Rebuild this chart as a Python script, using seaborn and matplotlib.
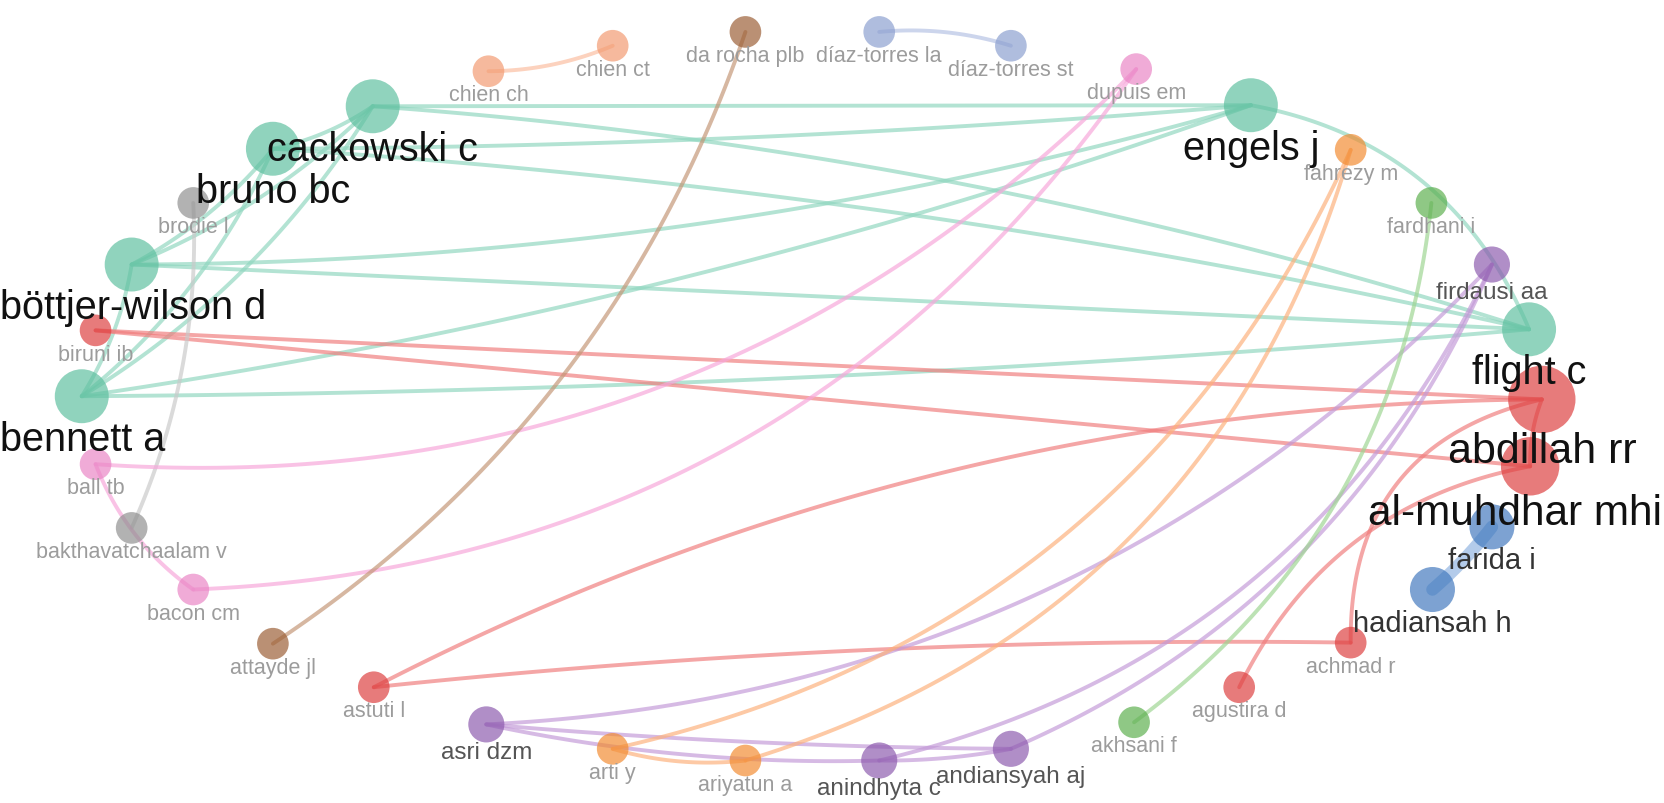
import numpy as np
import pandas as pd
import matplotlib
matplotlib.use("Agg")
import matplotlib.pyplot as plt
import seaborn as sns

# ---------------- data ----------------
names = ['cackowski c', 'bruno bc', 'böttjer-wilson d', 'bennett a', 'engels j', 'flight c',
         'abdillah rr', 'al-muhdhar mhi', 'farida i', 'hadiansah h', 'achmad r', 'agustira d',
         'astuti l', 'biruni ib', 'fardhani i', 'akhsani f', 'firdausi aa', 'asri dzm',
         'anindhyta c', 'andiansyah aj', 'fahrezy m', 'arti y', 'ariyatun a', 'brodie l',
         'bakthavatchaalam v', 'ball tb', 'bacon cm', 'dupuis em', 'da rocha plb', 'attayde jl',
         'chien ch', 'chien ct', 'díaz-torres la', 'díaz-torres st']
node_x = [351, 257, 124, 77, 1178, 1440,
          1452, 1441, 1405, 1349, 1272, 1167,
          352, 90, 1348, 1068, 1405, 458,
          828, 952, 1272, 577, 702, 182,
          124, 90, 182, 1070, 702, 257,
          460, 577, 828, 952]
node_y = [101, 141, 250, 374, 100, 311,
          377, 440, 497, 556, 606, 648,
          648, 312, 192, 681, 250, 683,
          717, 706, 142, 706, 717, 192,
          498, 438, 556, 66, 31, 607,
          68, 44, 31, 44]
cluster = ['teal'] * 6 + ['red', 'red', 'blue', 'blue', 'red', 'red', 'red', 'red',
           'green', 'green', 'purple', 'purple', 'purple', 'purple',
           'orange', 'orange', 'orange', 'gray', 'gray', 'pink', 'pink', 'pink',
           'brown', 'brown', 'salmon', 'salmon', 'lavender', 'lavender']
weight = [6, 6, 6, 6, 6, 6,
          9, 7, 4, 4, 1, 1,
          1, 1, 1, 1, 2, 2,
          2, 2, 1, 1, 1, 1,
          1, 1, 1, 1, 1, 1,
          1, 1, 1, 1]

edge_source = ['cackowski c', 'cackowski c', 'bruno bc', 'bruno bc', 'böttjer-wilson d',
               'böttjer-wilson d', 'bennett a', 'bennett a', 'bruno bc', 'böttjer-wilson d',
               'bennett a', 'böttjer-wilson d', 'bennett a', 'bennett a', 'engels j',
               'biruni ib', 'biruni ib', 'abdillah rr', 'astuti l', 'astuti l', 'achmad r',
               'agustira d', 'hadiansah h',
               'asri dzm', 'anindhyta c', 'andiansyah aj', 'asri dzm', 'asri dzm', 'anindhyta c',
               'arti y', 'ariyatun a', 'arti y', 'akhsani f', 'brodie l',
               'ball tb', 'bacon cm', 'ball tb', 'attayde jl', 'chien ch', 'díaz-torres la']
edge_target = ['engels j', 'flight c', 'engels j', 'flight c', 'engels j',
               'flight c', 'engels j', 'flight c', 'cackowski c', 'cackowski c',
               'cackowski c', 'bruno bc', 'bruno bc', 'böttjer-wilson d', 'flight c',
               'abdillah rr', 'al-muhdhar mhi', 'al-muhdhar mhi', 'abdillah rr', 'achmad r',
               'abdillah rr', 'al-muhdhar mhi', 'farida i',
               'firdausi aa', 'firdausi aa', 'firdausi aa', 'anindhyta c', 'andiansyah aj',
               'andiansyah aj', 'fahrezy m', 'fahrezy m', 'ariyatun a', 'fardhani i',
               'bakthavatchaalam v', 'dupuis em', 'dupuis em', 'bacon cm', 'da rocha plb',
               'chien ct', 'díaz-torres st']

# ---------------- styles ----------------
edge_bend = [0.0, -0.06, 0.02, -0.04, 0.07,
             0.0, 0.05, 0.02, 0.1, 0.1,
             0.12, 0.1, 0.12, 0.1, -0.27,
             0.0, 0.0, 0.1, -0.12, -0.03,
             -0.4, -0.25, 0.05,
             0.2, 0.24, 0.2, 0.06, 0.02,
             0.05, 0.25, 0.27, 0.1, 0.22, -0.12,
             0.23, 0.25, 0.15, 0.17, 0.1, -0.1]

palette = {'teal': '#5cbf9e', 'red': '#dd3c3c', 'blue': '#3f77bd', 'purple': '#8b58ad',
           'orange': '#f28a2e', 'green': '#5aae4c', 'gray': '#8e8e8e', 'pink': '#e983c4',
           'brown': '#9a5c32', 'salmon': '#f2996f', 'lavender': '#8a9ecf'}
edge_colors = {'teal': '#8fd6bf', 'red': '#f07c7c', 'blue': '#8fb3e0', 'purple': '#c39ad8',
               'orange': '#fdb07a', 'green': '#9dd591', 'gray': '#c9c9c9', 'pink': '#f7a6da',
               'brown': '#c39575', 'salmon': '#fbbd9f', 'lavender': '#b5c1e4'}
label_pt = {1: 15.5, 2: 17.5, 4: 21, 6: 28.5, 7: 30.5, 9: 31}
label_col = {1: '#9c9c9c', 2: '#555555', 4: '#333333', 6: '#111111', 7: '#111111', 9: '#111111'}

W, H = 1568, 757          # drawing space
SCALE = 804 / H           # drawing-space px -> output px


def radius(w):
    return 12.8 + 2.1 * w


def pt_to_space(pt):
    return pt / 0.72 / SCALE


df = pd.DataFrame({'name': names, 'x': node_x, 'y': node_y,
                   'cluster': cluster, 'weight': weight})
pos = {n: (x, y) for n, x, y in zip(names, node_x, node_y)}
cl_of = dict(zip(names, cluster))

sns.set_theme(style='white')
plt.rcParams['font.family'] = ['Liberation Sans', 'DejaVu Sans']

fig = plt.figure(figsize=(16.65, 8.04), dpi=100)
ax = fig.add_axes([0, 0, 1, 1])

# edges: quadratic Bezier curves
t = np.linspace(0, 1, 80)[:, None]
for s, e, k in zip(edge_source, edge_target, edge_bend):
    p = np.array(pos[s], float)
    q = np.array(pos[e], float)
    d = q - p
    c = (p + q) / 2 + k * np.array([-d[1], d[0]])
    pts = (1 - t) ** 2 * p + 2 * (1 - t) * t * c + t ** 2 * q
    lw = 9 if cl_of[s] == 'blue' else 2.8
    ax.plot(pts[:, 0], pts[:, 1], color=edge_colors[cl_of[s]], lw=lw,
            alpha=0.68, solid_capstyle='round', zorder=1)

# nodes
sizes = {w: (2 * radius(w) * SCALE * 0.72) ** 2 for w in sorted(set(weight))}
sns.scatterplot(data=df, x='x', y='y', hue='cluster', palette=palette,
                size='weight', sizes=sizes, legend=False, alpha=0.68,
                edgecolor='none', linewidth=0, ax=ax, zorder=2)
ax.set_xlim(0, W)
ax.set_ylim(H, 0)
ax.axis('off')

# labels (kept inside the canvas, as the reference does)
fig.canvas.draw()
renderer = fig.canvas.get_renderer()
fig_w = fig.bbox.width
for n, x, y, w in zip(names, node_x, node_y, weight):
    fpx = pt_to_space(label_pt[w])
    yb = y + radius(w) + 0.72 * fpx - 2
    txt = ax.text(x, yb, n, ha='center', va='baseline', fontsize=label_pt[w],
                  color=label_col[w], zorder=3)
    bb = txt.get_window_extent(renderer)
    shift = 0.0
    if bb.x1 > fig_w - 3:
        shift = (fig_w - 3 - bb.x1) / SCALE
    elif bb.x0 < 0:
        shift = -bb.x0 / SCALE
    if shift:
        txt.set_x(x + shift)

fig.savefig('out.png', dpi=100)
